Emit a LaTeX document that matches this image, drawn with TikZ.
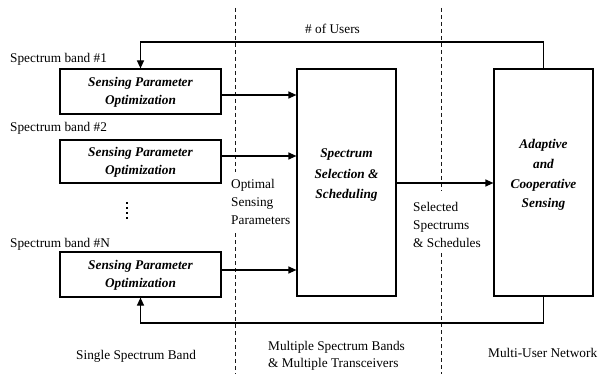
\documentclass[tikz,border=0pt]{standalone}
\usepackage{fontspec}
\setmainfont{Liberation Serif}
\usetikzlibrary{arrows.meta}
\begin{document}
\begin{tikzpicture}[x=1pt,y=-1pt,
  box/.style={draw, line width=1.2pt, inner sep=0pt},
  lbl/.style={font=\fontsize{13.3}{18}\selectfont, inner sep=0pt},
  bt/.style={font=\bfseries\itshape\fontsize{13.3}{18.5}\selectfont, align=center, inner sep=0pt},
  arr/.style={line width=1.2pt, -{Triangle[length=8pt,width=7pt]}},
  sep/.style={line width=1pt, dash pattern=on 4pt off 3pt, black!90}]
\useasboundingbox (0,0) rectangle (599,374);

% boxes
\node[box, minimum width=161pt, minimum height=45pt] (b1) at (140.5,91.5) {};
\node[box, minimum width=161pt, minimum height=43pt] (b2) at (140.5,161.5) {};
\node[box, minimum width=161pt, minimum height=45pt] (bN) at (140.5,274.5) {};
\node[box, minimum width=99pt, minimum height=227pt] (c) at (346.5,182.5) {};
\node[box, minimum width=99pt, minimum height=227pt] (r) at (543.5,182.5) {};

% box texts
\node[bt] (t1) at (140.5,92.5) {Sensing Parameter\\Optimization};
\node[bt] (t2) at (140.5,162.5) {Sensing Parameter\\Optimization};
\node[bt] (tN) at (140.5,275.5) {Sensing Parameter\\Optimization};
\node[bt, font=\bfseries\itshape\fontsize{13.3}{20.5}\selectfont] (tc) at (346.5,175.5) {Spectrum\\Selection \&\\Scheduling};
\node[bt, font=\bfseries\itshape\fontsize{13.3}{19.7}\selectfont] (tr) at (543.5,175) {Adaptive\\and\\Cooperative\\Sensing};

% labels
\node[lbl, anchor=base west] (s1) at (10,63) {Spectrum band \#1};
\node[lbl, anchor=base west] (s2) at (10,132) {Spectrum band \#2};
\node[lbl, anchor=base west] (sN) at (10,247) {Spectrum band \#N};
\node[lbl, anchor=base west] (users) at (305,34) {\# of Users};
\node[lbl, anchor=north west, align=left] (opt) at (231,179.5) {Optimal\\Sensing\\Parameters};
\node[lbl, anchor=north west, align=left] (sel) at (413,202.5) {Selected\\Spectrums\\\& Schedules};
\node[lbl, anchor=base west] (single) at (76,359) {Single Spectrum Band};
\node[lbl, anchor=north west, align=left, font=\fontsize{13.3}{17}\selectfont] (multi) at (268,341) {Multiple Spectrum Bands\\\& Multiple Transceivers};
\node[lbl, anchor=base west] (mun) at (488,357) {Multi-User Network};

% vertical dots
\coordinate (d1) at (127,202);
\coordinate (d2) at (127,221);
\draw[line width=1.6pt, dash pattern=on 1.6pt off 3.4pt] (d1) -- (d2);

% separators
\coordinate (a1) at (235,8);
\coordinate (a2) at (235,172);
\coordinate (a3) at (235,233);
\coordinate (a4) at (235,374);
\coordinate (e1) at (441,8);
\coordinate (e2) at (441,191);
\coordinate (e3) at (441,253);
\coordinate (e4) at (441,374);
\draw[sep] (a1) -- (a2);
\draw[sep] (a3) -- (a4);
\draw[sep] (e1) -- (e2);
\draw[sep] (e3) -- (e4);

% forward arrows
\draw[arr] ([yshift=-3.5pt]b1.east) -- ([yshift=-3.5pt]b1.east -| c.west);
\draw[arr] ([yshift=5.5pt]b2.east) -- ([yshift=5.5pt]b2.east -| c.west);
\draw[arr] ([yshift=4.5pt]bN.east) -- ([yshift=4.5pt]bN.east -| c.west);
\draw[arr] ([yshift=-0.5pt]c.east) -- ([yshift=-0.5pt]c.east -| r.west);

% feedback
\coordinate (topy) at (0,42);
\coordinate (boty) at (0,323);
\draw[arr] (r.north) -- (r.north |- topy) -| (b1.north);
\draw[arr] (r.south) -- (r.south |- boty) -| (bN.south);
\end{tikzpicture}
\end{document}
